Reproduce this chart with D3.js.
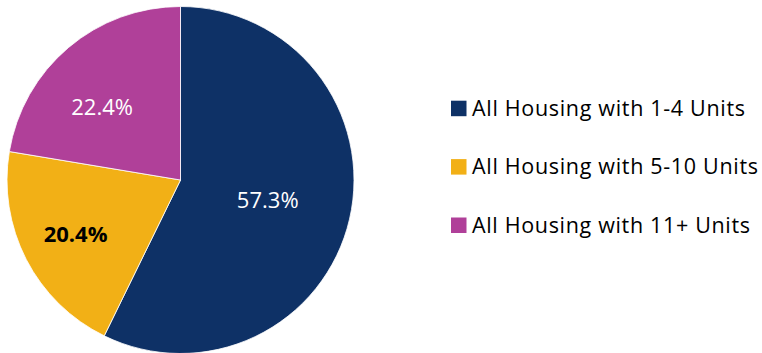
<!DOCTYPE html>
<html>
<head>
<meta charset="utf-8">
<script src="https://cdn.jsdelivr.net/npm/d3@7"></script>
<style>
  html, body { margin: 0; padding: 0; background: #fff; }
  svg { display: block; }
  text { font-family: "Open Sans", "Noto Sans", sans-serif; }
</style>
</head>
<body>
<svg id="chart" width="762" height="353"></svg>
<script>
// Share of housing by building size
const categories = ["All Housing with 1-4 Units", "All Housing with 5-10 Units", "All Housing with 11+ Units"];
const shares = [57.3, 20.4, 22.4];
const sliceColors = ["#0E3166", "#F2B016", "#B04099"];
const labelColors = ["#ffffff", "#000000", "#ffffff"];
const labelWeights = ["normal", "bold", "normal"];

const svg = d3.select("#chart");
const cx = 180.5, cy = 180, radius = 173.5;

const data = categories.map((c, i) => ({ name: c, value: shares[i], i }));

const pie = d3.pie().sort(null).value(d => d.value);
const arc = d3.arc().innerRadius(0).outerRadius(radius);

const g = svg.append("g").attr("transform", `translate(${cx},${cy})`);
const arcs = pie(data);

g.selectAll("path.slice")
  .data(arcs)
  .join("path")
  .attr("class", "slice")
  .attr("d", arc)
  .attr("fill", d => sliceColors[d.data.i])
  .attr("stroke", "#ffffff")
  .attr("stroke-width", 0.8);

// Value labels inside each slice: placed along the slice's mid-angle,
// at a per-slice fraction of the radius, with a small nudge
const labelRadius = [0.516, 0.68, 0.614];
const labelNudge = [[0, 0], [0, 0], [-9.5, 9]];
function labelPos(d) {
  const k = labelRadius[d.data.i] * radius;
  const c = d3.arc().innerRadius(k).outerRadius(k).centroid(d);
  const n = labelNudge[d.data.i];
  return [c[0] + n[0], c[1] + n[1]];
}

g.selectAll("text.value")
  .data(arcs)
  .join("text")
  .attr("class", "value")
  .attr("x", d => labelPos(d)[0])
  .attr("y", d => labelPos(d)[1])
  .attr("dy", "0.35em")
  .attr("text-anchor", "middle")
  .attr("font-size", 22)
  .attr("font-weight", d => labelWeights[d.data.i])
  .attr("fill", d => labelColors[d.data.i])
  .text(d => d3.format(".1f")(d.data.value) + "%");

// Legend
const legendY = d3.scalePoint().domain(categories).range([108.2, 225]);
const legendWidths = [273, 286, 278];
const legend = svg.append("g");
const items = legend.selectAll("g.item")
  .data(data)
  .join("g")
  .attr("class", "item")
  .attr("transform", d => `translate(451,${legendY(d.name)})`);

items.append("rect")
  .attr("x", 0).attr("y", -7.5)
  .attr("width", 15.5).attr("height", 15.5)
  .attr("fill", d => sliceColors[d.i]);

items.append("text")
  .attr("x", 21)
  .attr("y", 0)
  .attr("dy", "0.35em")
  .attr("font-size", 21.5)
  .attr("fill", "#000")
  .attr("textLength", d => legendWidths[d.i])
  .attr("lengthAdjust", "spacing")
  .text(d => d.name);
</script>
</body>
</html>
